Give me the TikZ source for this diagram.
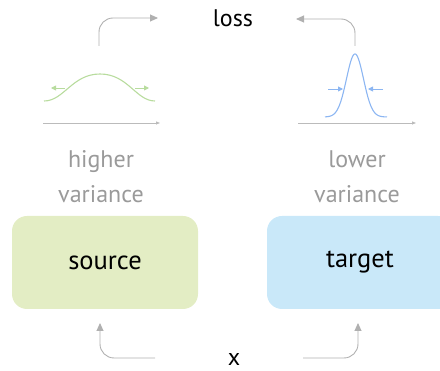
\documentclass[tikz,border=0pt]{standalone}
\usepackage{fontspec}
\setmainfont{PT Sans}
\usetikzlibrary{arrows.meta}
\definecolor{boxgreen}{HTML}{E3EDC4}
\definecolor{boxblue}{HTML}{C9E8F9}
\definecolor{curvegreen}{HTML}{B8DC9E}
\definecolor{curveblue}{HTML}{8CB6F2}
\definecolor{arrowgray}{HTML}{B0B0B0}
\definecolor{axisgray}{HTML}{BBBBBB}
\definecolor{labelgray}{HTML}{9A9A9A}
\tikzset{
  modelbox/.style={rounded corners=15pt, minimum width=186pt, minimum height=93pt, inner sep=0pt, font=\fontsize{26.5}{30}\selectfont},
  flowarrow/.style={draw=arrowgray, line width=0.9pt, rounded corners=14pt, -{Triangle[length=8pt,width=7pt]}},
  axisline/.style={draw=axisgray, line width=0.8pt, -{Triangle[length=4pt,width=3pt]}},
  smallarrow/.style={line width=0.9pt, -{Triangle[length=5pt,width=5pt]}},
  varlabel/.style={text=labelgray, align=center, font=\fontsize{24}{35}\selectfont},
  maintext/.style={font=\fontsize{24}{28}\selectfont, inner sep=0pt},
}
\begin{document}
\begin{tikzpicture}[x=1pt,y=-1pt]
\useasboundingbox (0,0) rectangle (440,371);
% boxes
\node[modelbox, fill=boxgreen] (source) at (105,262.5) {source};
\node[modelbox, fill=boxblue] (target) at (360,262.5) {target};
% labels
\node[maintext, anchor=base] (loss) at (233,27) {loss};
\node[maintext, anchor=base] (xin) at (234,366) {x};
\node[varlabel, anchor=base] (hv) at (101,203) {higher\\variance};
\node[varlabel, anchor=base] (lv) at (357,203) {lower\\variance};
% coordinates for arrows
\coordinate (blstart) at (155,358);
\coordinate (blend) at (100,323);
\coordinate (brstart) at (303,358);
\coordinate (brend) at (358,323);
\coordinate (tlstart) at (99,46);
\coordinate (tlend) at (158,18);
\coordinate (trstart) at (355,46);
\coordinate (trend) at (296,19);
\draw[flowarrow] (blstart) -| (blend);
\draw[flowarrow] (brstart) -| (brend);
\draw[flowarrow] (tlstart) |- (tlend);
\draw[flowarrow] (trstart) |- (trend);
% axes
\coordinate (ga0) at (43,123);
\coordinate (ga1) at (160,123);
\coordinate (ba0) at (298,123);
\coordinate (ba1) at (416,123);
\draw[axisline] (ga0) -- (ga1);
\draw[axisline] (ba0) -- (ba1);
% green curve
\draw[curvegreen, line width=1.1pt] (44,101) .. controls (64,101) and (72,74) .. (100,74) .. controls (128,74) and (136,101) .. (155,101);
\coordinate (gl0) at (65,88);
\coordinate (gl1) at (51,88);
\coordinate (gr0) at (135,88);
\coordinate (gr1) at (149,88);
\draw[smallarrow, curvegreen] (gl0) -- (gl1);
\draw[smallarrow, curvegreen] (gr0) -- (gr1);
% blue curve
\draw[curveblue, line width=1.1pt, domain=325:387, samples=120, smooth] plot (\x, {117 - 63*exp(-((\x-355)/8.5)^2/2)});
\coordinate (bl0) at (328,89);
\coordinate (bl1) at (343,89);
\coordinate (br0) at (383,89);
\coordinate (br1) at (368,89);
\draw[smallarrow, curveblue] (bl0) -- (bl1);
\draw[smallarrow, curveblue] (br0) -- (br1);
\end{tikzpicture}
\end{document}
